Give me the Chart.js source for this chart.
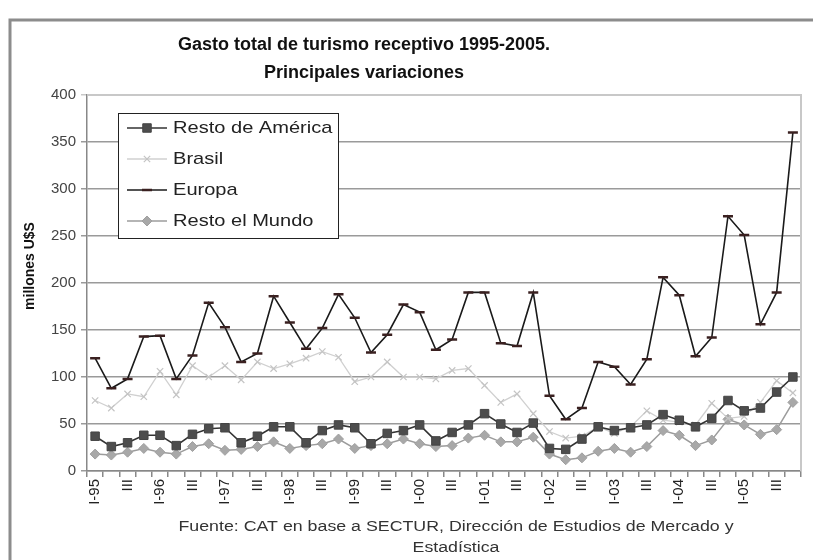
<!DOCTYPE html>
<html>
<head>
<meta charset="utf-8">
<script src="https://cdn.jsdelivr.net/npm/chart.js@4.4.1/dist/chart.umd.min.js"></script>
<style>
  html, body { margin: 0; padding: 0; background: #fff; }
</style>
</head>
<body>
<canvas id="gastoChart" width="813" height="560"></canvas>
<script>
// quarters 1995-2005, only every other label is shown on the axis
const quarters = [
  'I-95', 'II', 'III', 'IV', 'I-96', 'II', 'III', 'IV', 'I-97', 'II', 'III', 'IV',
  'I-98', 'II', 'III', 'IV', 'I-99', 'II', 'III', 'IV', 'I-00', 'II', 'III', 'IV',
  'I-01', 'II', 'III', 'IV', 'I-02', 'II', 'III', 'IV', 'I-03', 'II', 'III', 'IV',
  'I-04', 'II', 'III', 'IV', 'I-05', 'II', 'III', 'IV'
];

const restoAmerica = [37, 26, 30, 38, 38, 27, 39, 45, 46, 30, 37, 47, 47, 30, 43, 49, 46, 29, 40, 43,
  49, 32, 41, 49, 61, 50, 41, 51, 24, 23, 34, 47, 43, 46, 49, 60, 54, 47, 56, 75, 64, 67, 84, 100];

const brasil = [75, 67, 82, 79, 106, 81, 112, 100, 112, 97, 116, 109, 114, 120, 127, 121, 95, 100, 116, 100,
  100, 98, 107, 109, 91, 73, 82, 61, 42, 35, 37, 47, 40, 47, 64, 54, 52, 49, 72, 56, 58, 73, 96, 83];

const europa = [120, 88, 98, 143, 144, 98, 123, 179, 153, 116, 125, 186, 158, 130, 152, 188, 163, 126, 145, 177,
  169, 129, 140, 190, 190, 136, 133, 190, 80, 55, 67, 116, 111, 92, 119, 206, 187, 122, 142, 271, 251, 156, 190, 360];

const restoMundo = [18, 17, 20, 24, 20, 18, 26, 29, 22, 23, 26, 31, 24, 27, 29, 34, 24, 27, 29, 34,
  29, 26, 27, 35, 38, 31, 31, 36, 18, 12, 14, 21, 24, 20, 26, 43, 38, 27, 33, 55, 49, 39, 44, 73];

const seriesNames = ['Resto de América', 'Brasil', 'Europa', 'Resto el Mundo'];
const yMin = 0;
const yMax = 400;
const yStep = 50;

const titleLines = ['Gasto total de turismo receptivo 1995-2005.', 'Principales variaciones'];
const yAxisTitle = 'millones U$S';
const sourceLines = ['Fuente: CAT en base a SECTUR, Dirección de Estudios de Mercado y', 'Estadística'];

const FONT = '"Liberation Sans", Arial, sans-serif';
Chart.defaults.font.family = FONT;

function drawText(ctx, text, x, y, font, color, align, sx, rot) {
  ctx.save();
  ctx.font = font;
  ctx.fillStyle = color;
  ctx.textAlign = align;
  ctx.textBaseline = 'middle';
  ctx.translate(x, y);
  if (rot) ctx.rotate(rot);
  ctx.scale(sx, 1);
  ctx.fillText(text, 0, 0);
  ctx.restore();
}

const decorations = {
  id: 'decorations',
  beforeDraw(chart) {
    const ctx = chart.ctx;
    ctx.save();
    ctx.fillStyle = '#fff';
    ctx.fillRect(0, 0, chart.width, chart.height);
    // outer frame of the original picture
    ctx.strokeStyle = '#8c8c8c';
    ctx.lineWidth = 3;
    ctx.beginPath();
    ctx.moveTo(10, chart.height);
    ctx.lineTo(10, 20);
    ctx.lineTo(chart.width, 20);
    ctx.stroke();
    ctx.restore();
  },
  afterDraw(chart) {
    const ctx = chart.ctx;
    const area = chart.chartArea;

    // plot area border (top / right)
    ctx.save();
    ctx.strokeStyle = '#c8c8c8';
    ctx.lineWidth = 2;
    ctx.beginPath();
    ctx.moveTo(area.left, area.top);
    ctx.lineTo(area.right, area.top);
    ctx.lineTo(area.right, area.bottom);
    ctx.stroke();
    ctx.restore();

    drawText(ctx, titleLines[0], 364, 45, 'bold 18px ' + FONT, '#111', 'center', 1);
    drawText(ctx, titleLines[1], 364, 73, 'bold 18px ' + FONT, '#111', 'center', 1);
    drawText(ctx, yAxisTitle, 30, 266, 'bold 14px ' + FONT, '#111', 'center', 1, -Math.PI / 2);
    drawText(ctx, sourceLines[0], 456, 527, '14px ' + FONT, '#333', 'center', 1.27);
    drawText(ctx, sourceLines[1], 456, 548, '14px ' + FONT, '#333', 'center', 1.27);

    // legend box inside the plot
    ctx.save();
    ctx.fillStyle = '#fff';
    ctx.strokeStyle = '#222';
    ctx.lineWidth = 1;
    ctx.fillRect(118, 113, 220, 125);
    ctx.strokeRect(118.5, 113.5, 220, 125);
    chart.data.datasets.forEach((ds, i) => {
      const y = 128 + i * 31;
      ctx.strokeStyle = ds.borderColor;
      ctx.lineWidth = ds.borderWidth;
      ctx.beginPath();
      ctx.moveTo(127, y);
      ctx.lineTo(167, y);
      ctx.stroke();
      ctx.fillStyle = ds.pointBackgroundColor;
      ctx.strokeStyle = ds.pointBorderColor;
      ctx.lineWidth = ds.pointBorderWidth;
      Chart.helpers.drawPoint(ctx, {
        pointStyle: ds.pointStyle,
        radius: ds.pointRadius,
        rotation: 0,
        borderWidth: ds.pointBorderWidth
      }, 147, y);
      drawText(ctx, ds.label, 173, y, '17px ' + FONT, '#222', 'left', 1.18);
    });
    ctx.restore();
  }
};

const ctx = document.getElementById('gastoChart');
new Chart(ctx, {
  type: 'line',
  data: {
    labels: quarters,
    datasets: [
      {
        label: seriesNames[0],
        data: restoAmerica,
        borderColor: '#333333',
        borderWidth: 1.6,
        pointStyle: 'rect',
        pointRadius: 6,
        pointBackgroundColor: '#4d4d4d',
        pointBorderColor: '#444444',
        pointBorderWidth: 1,
      },
      {
        label: seriesNames[1],
        data: brasil,
        borderColor: '#d0d0d0',
        borderWidth: 1.3,
        pointStyle: 'crossRot',
        pointRadius: 4.5,
        pointBackgroundColor: '#c4c4c4',
        pointBorderColor: '#c4c4c4',
        pointBorderWidth: 1.2,
      },
      {
        label: seriesNames[2],
        data: europa,
        borderColor: '#1a1a1a',
        borderWidth: 1.6,
        pointStyle: 'line',
        pointRadius: 5,
        pointBackgroundColor: '#3a2020',
        pointBorderColor: '#3a2020',
        pointBorderWidth: 2.5,
      },
      {
        label: seriesNames[3],
        data: restoMundo,
        borderColor: '#9c9c9c',
        borderWidth: 1.5,
        pointStyle: 'rectRot',
        pointRadius: 5,
        pointBackgroundColor: '#a8a8a8',
        pointBorderColor: '#a0a0a0',
        pointBorderWidth: 1,
      },
    ],
  },
  options: {
    responsive: false,
    animation: false,
    layout: { padding: { left: 0, right: 10, top: 95, bottom: 49 } },
    plugins: {
      legend: { display: false },
      title: { display: false },
      tooltip: { enabled: false },
    },
    elements: { line: { tension: 0 } },
    scales: {
      x: {
        offset: true,
        afterFit: (scale) => { scale.height = 40; },
        grid: {
          offset: true,
          drawOnChartArea: false,
          drawTicks: true,
          tickLength: 6,
          color: '#888',
          lineWidth: 1.5,
        },
        border: { display: true, color: '#888', width: 1.5 },
        ticks: {
          autoSkip: false,
          minRotation: 90,
          maxRotation: 90,
          padding: 2,
          color: '#222',
          font: { size: 15 },
          callback: function (value, index) {
            return index % 2 === 0 ? this.getLabelForValue(value) : '';
          },
        },
      },
      y: {
        min: yMin,
        max: yMax,
        afterFit: (scale) => { scale.width = 87; },
        grid: {
          color: (c) => (c.tick && c.tick.value === yMax ? '#c8c8c8' : '#9a9a9a'),
          lineWidth: 1.5,
          tickLength: 6,
        },
        border: { display: true, color: '#888', width: 1.5 },
        ticks: {
          stepSize: yStep,
          padding: 5,
          color: '#444',
          font: { size: 15 },
        },
      },
    },
  },
  plugins: [decorations],
});
</script>
</body>
</html>
